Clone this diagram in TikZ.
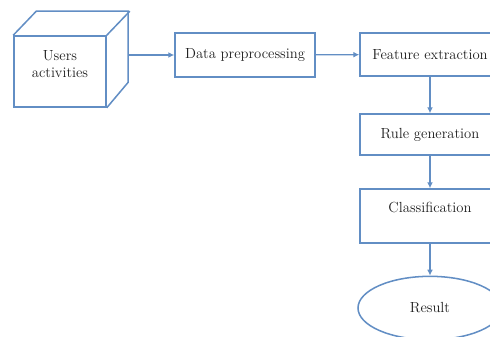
\documentclass[tikz,border=0pt]{standalone}
\usetikzlibrary{arrows.meta,shapes.geometric}
\definecolor{boxblue}{RGB}{98,142,196}
\definecolor{boxtext}{RGB}{30,30,30}
\begin{document}
\begin{tikzpicture}
    [x=0.03cm, y=-0.03cm,
    line width=1.3pt,
    font=\fontsize{12.5}{16}\selectfont,
    stepbox/.style = {draw=boxblue, rectangle, text=boxtext,
                      minimum width=4.2cm, inner sep=0pt},
    flow/.style = {draw=boxblue, line width=1.1pt,
                   -{Latex[length=5pt,width=5pt]}}]
    \clip (0,0) rectangle (490,337);
    \useasboundingbox (0,0) rectangle (490,337);
    % cube
    \node[draw=boxblue, text=boxtext, align=center,
          minimum width=2.76cm, minimum height=2.13cm] (users) at (60,71.5) {Users\\[-1pt]activities\\[-3pt]\mbox{}};
    \draw[boxblue] (users.north west) -- ++(23,-24) -- ++(92,0) -- ++(0,71) -- (users.south east);
    \draw[boxblue] (users.north east) -- ++(23,-24);
    \coordinate (usersout) at (129,55);
    % boxes
    \node[stepbox, minimum height=1.32cm] (data) at (245,55) {Data preprocessing};
    \node[stepbox, minimum height=1.29cm] (feature) at (430,54.5) {Feature extraction};
    \node[stepbox, minimum height=1.23cm] (rule) at (430,134.5) {Rule generation};
    \node[stepbox, text height=0.69cm, text depth=0.93cm] (class) at (430,216) {Classification};
    \node[draw=boxblue, ellipse, text=boxtext,
          minimum width=4.32cm, minimum height=1.9cm] (result) at (430,308) {Result};
    % arrows
    \draw[flow] (usersout) -- (data.west);
    \draw[flow] (data) -- (feature);
    \draw[flow] (feature) -- (rule);
    \draw[flow] (rule) -- (class);
    \draw[flow] (class) -- (result);
\end{tikzpicture}
\end{document}
